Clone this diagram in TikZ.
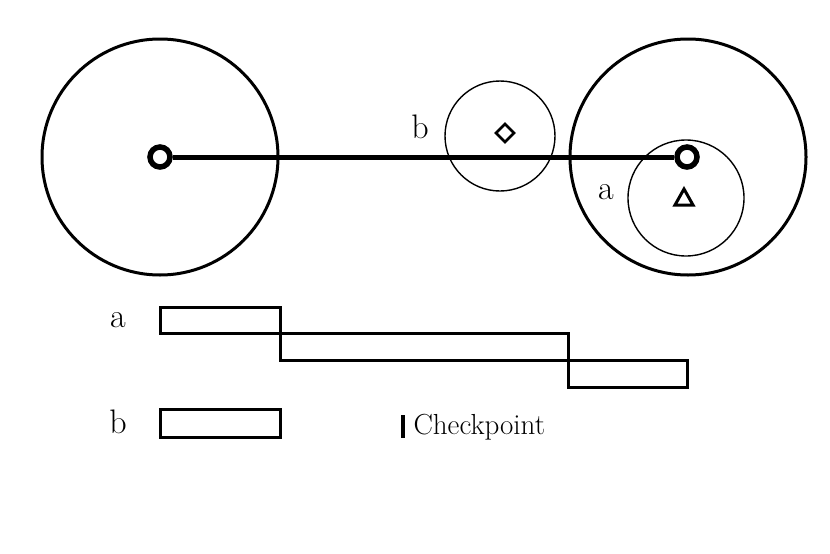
\documentclass[tikz,border=0pt]{standalone}
\usetikzlibrary{positioning}
\begin{document}
\begin{tikzpicture}[x=1pt,y=-1pt,
    bigring/.style={line width=3pt},
    smallring/.style={line width=1.4pt},
    rod/.style={line width=5pt},
    endring/.style={circle,draw,line width=5.5pt,minimum size=20pt,inner sep=0pt},
    bar/.style={draw,line width=3pt},
    lbl/.style={font=\fontsize{34}{34}\selectfont}]
    \useasboundingbox (0,0) rectangle (830,554);
    % circles
    \draw[bigring] (160,157) circle (118);  %linker Kreis
    \draw[bigring] (688,157) circle (118);  %rechter Kreis
    \draw[smallring] (500,136) circle (55);
    \draw[smallring] (686,198) circle (58);
    % rod with end rings
    \node[endring] (left) at (160,157) {};
    \node[endring] (right) at (687,157) {};
    \draw[rod] (left) -- (right);
    \draw[line width=2.5pt] (505,124) -- (514,133) -- (505,142) -- (496,133) -- cycle;
    \draw[line width=3pt,line join=miter] (684,189) -- (693,205) -- (675,205) -- cycle;
    \node[lbl] (b) at (420,127) {b};
    \node[lbl] (a) at (606,192) {a};
    % timeline
    \draw[bar] (160,307) rectangle (280,333);
    \draw[bar] (280,333) rectangle (568,360);
    \draw[bar] (568,360) rectangle (687,387);
    \draw[bar] (160,409) rectangle (280,437);
    \node[lbl] (la) at (118,320) {a};
    \node[lbl] (lb) at (118,422) {b};
    \draw[line width=3.5pt] (403,415) -- (403,438);
    \node[font=\fontsize{29}{29}\selectfont,anchor=west] (cp) at (410,427) {Checkpoint};
\end{tikzpicture}
\end{document}
